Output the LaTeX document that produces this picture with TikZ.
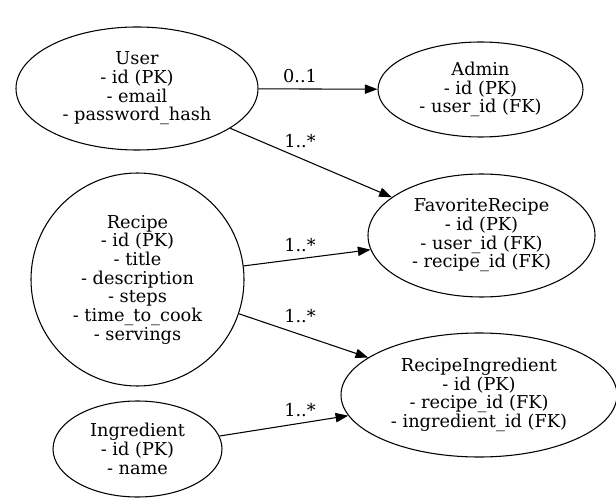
\documentclass[tikz,border=0pt]{standalone}
\usepackage{fontspec}
\setmainfont{DejaVu Serif}
\usetikzlibrary{shapes.geometric,arrows.meta}
\begin{document}
\begin{tikzpicture}[x=0.75pt, y=-0.75pt,
    every node/.style={font=\fontsize{13.3pt}{14pt}\selectfont, align=center},
    entity/.style={draw, ellipse, inner sep=0pt, line width=0.8pt},
    rel/.style={line width=0.8pt, -{Triangle[length=9.5pt, width=7pt]}},
    card/.style={anchor=base, inner sep=0pt}]
    \useasboundingbox (0,0) rectangle (616,498);

    % Entita
    \node[entity, minimum width=181.5pt, minimum height=92.25pt] (user) at (137,88.5)
        {User\\- id (PK)\\- email\\- password\_hash};
    \node[entity, minimum width=153.75pt, minimum height=71.25pt] (admin) at (480.5,89.5)
        {Admin\\- id (PK)\\- user\_id (FK)};
    \node[entity, minimum width=170.25pt, minimum height=92.25pt] (favorite) at (481.5,235.5)
        {FavoriteRecipe\\- id (PK)\\- user\_id (FK)\\- recipe\_id (FK)};
    \node[draw, circle, inner sep=0pt, line width=0.8pt, minimum size=159.75pt] (recipe) at (137.5,279.5)
        {Recipe\\- id (PK)\\- title\\- description\\- steps\\- time\_to\_cook\\- servings};
    \node[entity, minimum width=207pt, minimum height=93pt] (recipeingr) at (479,395)
        {RecipeIngredient\\- id (PK)\\- recipe\_id (FK)\\- ingredient\_id (FK)};
    \node[entity, minimum width=126.75pt, minimum height=72pt] (ingredient) at (137.5,449)
        {Ingredient\\- id (PK)\\- name};

    % Relazioni
    \draw[rel] (user) -- (admin);
    \draw[rel] (user) -- (favorite);
    \draw[rel] (recipe) -- (favorite);
    \draw[rel] (recipe) -- (recipeingr);
    \draw[rel] (ingredient) -- (recipeingr);

    % Cardinalita
    \node[card] (c1) at (300,83) {0..1};
    \node[card] (c2) at (300,148) {1..*};
    \node[card] (c3) at (300,252) {1..*};
    \node[card] (c4) at (300,322) {1..*};
    \node[card] (c5) at (300,416) {1..*};
\end{tikzpicture}
\end{document}
